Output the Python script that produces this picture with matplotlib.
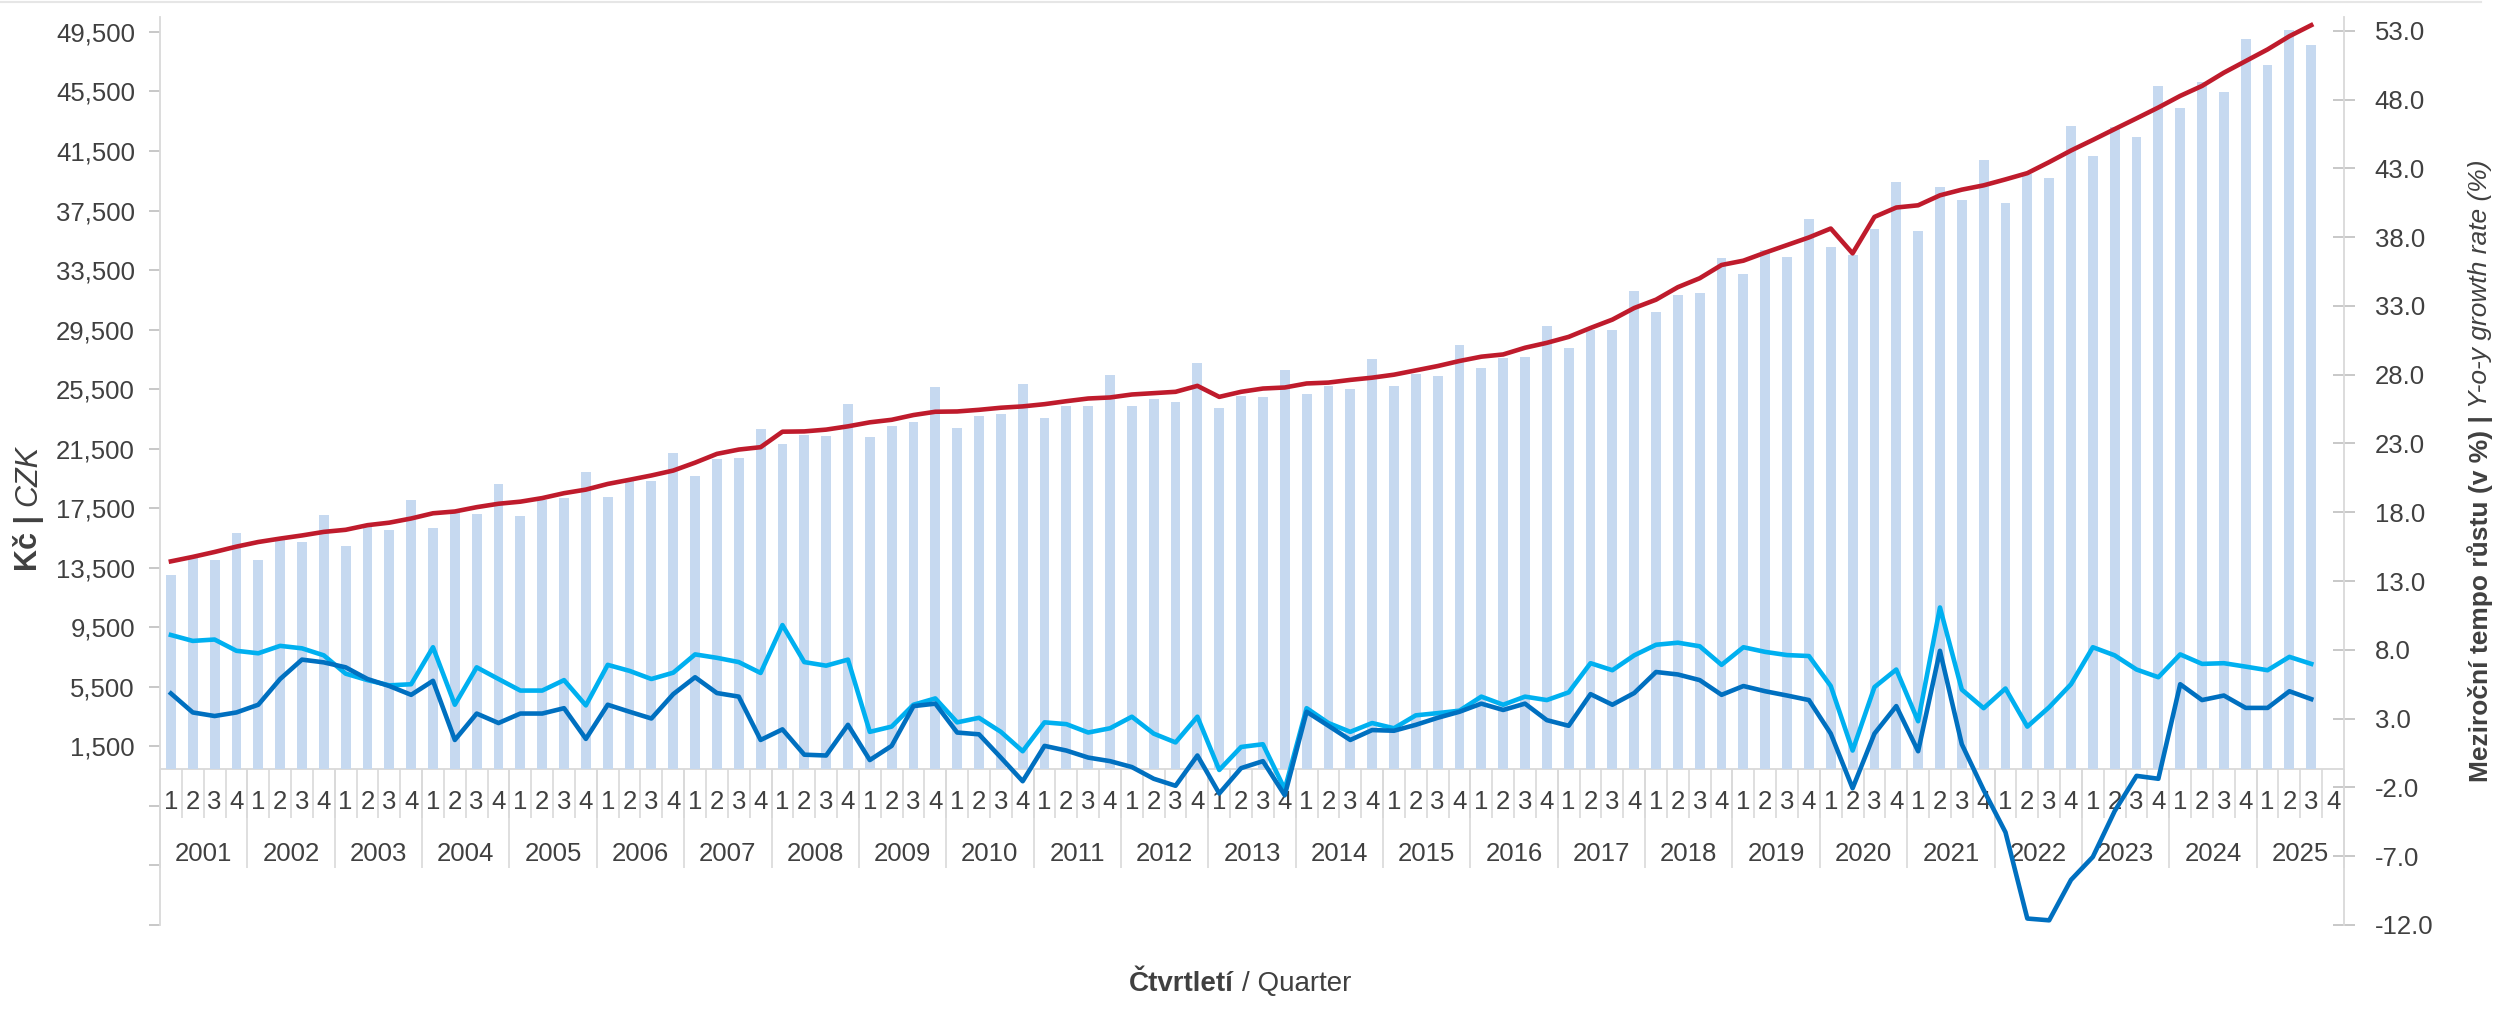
import numpy as np
import matplotlib.pyplot as plt
from matplotlib.lines import Line2D
from matplotlib.ticker import FuncFormatter

plt.rcParams['font.family'] = ['Liberation Sans', 'DejaVu Sans']

# průměrná hrubá měsíční mzda po čtvrtletích, 2001 Q1 - 2025 Q3
years = list(range(2001, 2026))
quarters = ['1', '2', '3', '4']

wage = [
    12980, 14160, 14040, 15860,
    14040, 15340, 15200, 17050,
    14970, 16400, 16050, 18060,
    16170, 17240, 17140, 19130,
    17000, 18060, 18180, 19900,
    18230, 19360, 19320, 21200,
    19650, 20820, 20880, 22820,
    21820, 22420, 22330, 24490,
    22310, 23000, 23270, 25650,
    22910, 23710, 23800, 25830,
    23560, 24340, 24340, 26430,
    24340, 24830, 24630, 27280,
    24200, 25050, 24940, 26760,
    25140, 25720, 25490, 27500,
    25690, 26490, 26380, 28460,
    26900, 27610, 27630, 29730,
    28280, 29500, 29460, 32060,
    30680, 31840, 31950, 34330,
    33240, 34840, 34400, 36960,
    35070, 34500, 36230, 39410,
    36120, 39080, 38190, 40900,
    38010, 39970, 39700, 43200,
    41130, 43090, 42420, 45870,
    44360, 46160, 45470, 49030,
    47270, 49660, 48650,
]

wage_trend = [
    13930, 14230, 14560, 14920,
    15230, 15460, 15670, 15910,
    16050, 16360, 16530, 16810,
    17160, 17280, 17570, 17800,
    17940, 18180, 18510, 18750,
    19130, 19410, 19700, 20030,
    20560, 21150, 21440, 21600,
    22640, 22660, 22780, 23000,
    23270, 23440, 23760, 23980,
    24000, 24110, 24250, 24340,
    24490, 24690, 24870, 24940,
    25140, 25230, 25320, 25720,
    24980, 25320, 25540, 25610,
    25880, 25940, 26120, 26270,
    26470, 26760, 27050, 27390,
    27680, 27830, 28280, 28610,
    29010, 29610, 30170, 30950,
    31510, 32350, 32950, 33840,
    34130, 34670, 35180, 35690,
    36290, 34620, 37070, 37700,
    37850, 38520, 38900, 39190,
    39590, 40010, 40750, 41530,
    42240, 42970, 43690, 44420,
    45200, 45870, 46760, 47540,
    48320, 49210, 49950,
]

# meziroční tempo růstu v %
nominal_growth = [
    9.08, 8.65, 8.75, 7.93,
    7.75, 8.29, 8.11, 7.60,
    6.27, 5.80, 5.42, 5.50,
    8.19, 4.01, 6.73, 5.88,
    5.04, 5.04, 5.80, 3.96,
    6.91, 6.47, 5.88, 6.34,
    7.67, 7.42, 7.11, 6.32,
    9.80, 7.11, 6.85, 7.29,
    2.04, 2.42, 4.01, 4.47,
    2.73, 3.06, 2.04, 0.63,
    2.73, 2.60, 1.99, 2.30,
    3.14, 1.91, 1.27, 3.14,
    -0.73, 0.94, 1.14, -2.13,
    3.76, 2.68, 2.04, 2.68,
    2.30, 3.24, 3.40, 3.58,
    4.60, 4.01, 4.60, 4.35,
    4.91, 7.03, 6.52, 7.60,
    8.37, 8.52, 8.26, 6.91,
    8.19, 7.85, 7.62, 7.55,
    5.37, 0.68, 5.29, 6.57,
    2.81, 11.08, 5.11, 3.76,
    5.19, 2.42, 3.83, 5.50,
    8.19, 7.60, 6.57, 6.01,
    7.67, 6.98, 7.03, 6.78,
    6.52, 7.49, 6.98,
]

real_growth = [
    4.83, 3.45, 3.19, 3.45,
    4.01, 5.88, 7.29, 7.09,
    6.73, 5.88, 5.37, 4.73,
    5.75, 1.45, 3.37, 2.68,
    3.37, 3.37, 3.76, 1.53,
    4.01, 3.50, 3.01, 4.78,
    6.01, 4.86, 4.60, 1.45,
    2.22, 0.38, 0.32, 2.55,
    -0.01, 1.02, 3.91, 4.09,
    1.99, 1.86, 0.17, -1.55,
    1.02, 0.68, 0.17, -0.09,
    -0.52, -1.37, -1.88, 0.32,
    -2.44, -0.60, -0.09, -2.57,
    3.50, 2.48, 1.45, 2.17,
    2.12, 2.55, 3.06, 3.50,
    4.09, 3.63, 4.09, 2.89,
    2.48, 4.78, 4.01, 4.86,
    6.39, 6.21, 5.80, 4.73,
    5.37, 4.99, 4.68, 4.35,
    1.91, -2.06, 1.91, 3.91,
    0.63, 7.93, 1.14, -2.19,
    -5.26, -11.53, -11.66, -8.72,
    -7.05, -3.72, -1.16, -1.37,
    5.50, 4.35, 4.68, 3.78,
    3.78, 4.99, 4.42,
]

bar_color = '#C6D9F0'
trend_color = '#BF1B2C'
nominal_color = '#00B0F0'
real_color = '#0070C0'
text_color = '#404040'
axis_color = '#D9D9D9'
tick_color = '#BFBFBF'

W, H = 2496, 1009
fig = plt.figure(figsize=(W / 100, H / 100), dpi=100)

# plocha grafu v pixelech
L, R, T, B = 160, 2344, 17, 925
ax = fig.add_axes([L / W, 1 - B / H, (R - L) / W, (B - T) / H])
ax2 = ax.twinx()

n_cat = len(years) * len(quarters)
x = np.arange(len(wage))

ax.bar(x, wage, width=0.45, color=bar_color, zorder=1)
ax.plot(x, wage_trend, color=trend_color, lw=3.3, solid_joinstyle='round', zorder=3)
ax2.plot(x, nominal_growth, color=nominal_color, lw=3.3, solid_joinstyle='round')
ax2.plot(x, real_growth, color=real_color, lw=3.3, solid_joinstyle='round')

ax.set_xlim(-0.5, n_cat - 0.5)
ax.set_ylim(-10500, 50500)
ax2.set_ylim(-12, 54)

ax.set_yticks(np.arange(-10500, 49501, 4000))
ax.yaxis.set_major_formatter(FuncFormatter(lambda v, p: f'{v:,.0f}' if v > 0 else ''))
ax2.set_yticks(np.arange(-12, 53.1, 5))
ax2.yaxis.set_major_formatter(FuncFormatter(lambda v, p: f'{v:.1f}'))
ax.set_xticks([])
ax2.set_xticks([])

for s in ['top', 'bottom', 'right']:
    ax.spines[s].set_visible(False)
for s in ['top', 'bottom', 'left']:
    ax2.spines[s].set_visible(False)
ax.spines['left'].set_color(axis_color)
ax.spines['left'].set_linewidth(1.3)
ax2.spines['right'].set_color(axis_color)
ax2.spines['right'].set_linewidth(1.3)

ax.tick_params(axis='y', direction='out', length=8, width=1.2, color=tick_color,
               labelsize=18.5, labelcolor=text_color, pad=10)
ax2.tick_params(axis='y', direction='inout', length=16, width=1.2, color=tick_color,
                labelsize=18.5, labelcolor=text_color, pad=14)

# kategoriální osa: čtvrtletí a roky pod nulovou linkou
px = 61000 / (B - T)
ax.axhline(0, color=axis_color, lw=1.3, zorder=0.5)
edges = np.arange(n_cat + 1) - 0.5
ax.vlines(edges, -49 * px, 0, color=axis_color, lw=1.2, clip_on=False)
ax.vlines(edges[::4], -99 * px, 0, color=axis_color, lw=1.2, clip_on=False)
for i in range(n_cat):
    ax.text(i, -33 * px, quarters[i % 4], ha='center', va='center',
            fontsize=18.5, color=text_color)
for k, yr in enumerate(years):
    ax.text(4 * k + 1.5, -85 * px, str(yr), ha='center', va='center',
            fontsize=18.5, color=text_color)

fig.add_artist(Line2D([0, 0.994], [1 - 1.5 / H, 1 - 1.5 / H], color='#E6E6E6', lw=1.5))


def mixed_label(pieces, cx, cy, size, vertical):
    # složí popisek z několika kusů s různým řezem písma
    texts = []
    for s, weight, style in pieces:
        t = fig.text(0, 0, s, fontsize=size, fontweight=weight, fontstyle=style,
                     color=text_color, rotation=90 if vertical else 0,
                     rotation_mode='anchor', ha='left', va='center')
        texts.append(t)
    fig.canvas.draw()
    r = fig.canvas.get_renderer()
    lens = [(t.get_window_extent(r).height if vertical else t.get_window_extent(r).width)
            for t in texts]
    gap = 0.28 * size * 100 / 72
    total = sum(lens) + gap * (len(lens) - 1)
    pos = (cy - total / 2) if vertical else (cx - total / 2)
    for t, ln in zip(texts, lens):
        if vertical:
            t.set_position((cx / W, pos / H))
        else:
            t.set_position((pos / W, cy / H))
        pos += ln + gap


mixed_label([('Kč |', 'bold', 'normal'), ('CZK', 'normal', 'italic')],
            28, H - 508, 22, True)
mixed_label([('Meziroční tempo růstu (v %) |', 'bold', 'normal'),
             ('Y-o-y growth rate (%)', 'normal', 'italic')],
            2480, H - 471, 19, True)
mixed_label([('Čtvrtletí', 'bold', 'normal'), ('/ Quarter', 'normal', 'normal')],
            1240, H - 984, 20, False)

fig.savefig('out.png', dpi=100)
